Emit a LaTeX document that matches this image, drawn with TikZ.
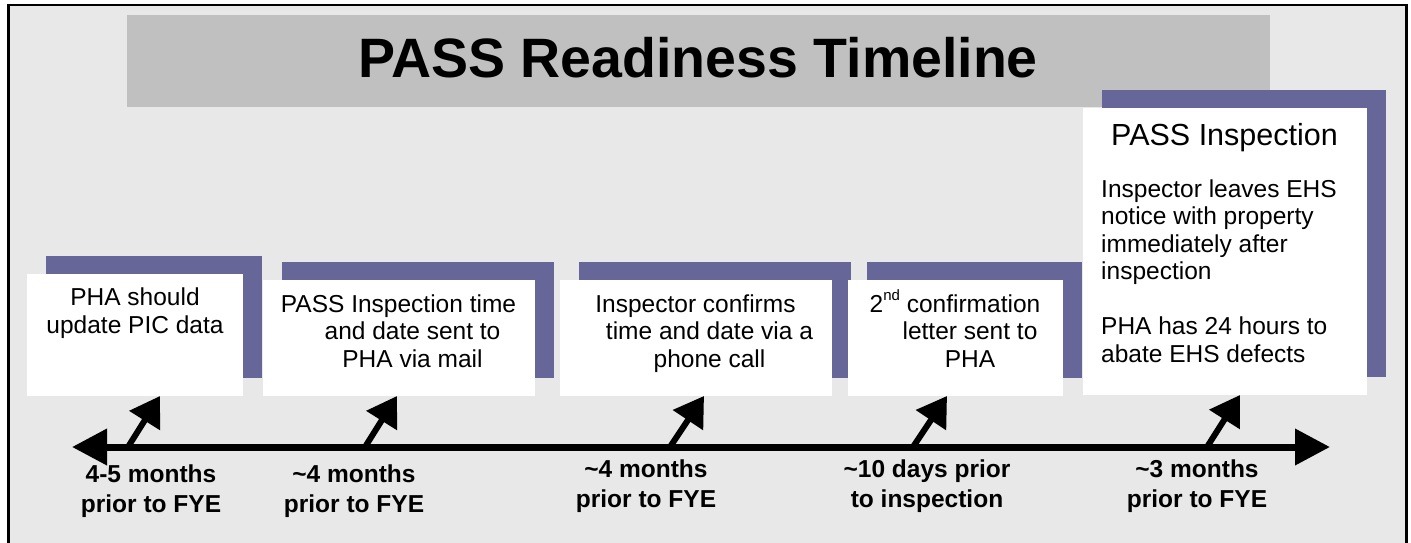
\documentclass[tikz,border=0pt]{standalone}
\usepackage{fontspec}
\setmainfont{Liberation Sans}
\usetikzlibrary{arrows.meta,shadows}
\definecolor{panelgray}{HTML}{E8E8E8}
\definecolor{titlegray}{HTML}{C0C0C0}
\definecolor{shadowblue}{HTML}{666699}

\begin{document}
\begin{tikzpicture}[x=1pt,y=-1pt,
  stepbox/.style={fill=white, inner sep=0pt, anchor=north west,
    general shadow={fill=shadowblue, shadow xshift=18.5pt, shadow yshift=18pt}},
  boxtext/.style={inner sep=0pt, anchor=base, align=center,
    font=\fontsize{24.5}{27.5}\selectfont},
  whenlabel/.style={inner sep=0pt, anchor=base, align=center,
    font=\fontsize{24.5}{30}\selectfont\bfseries},
  pointer/.style={line width=6pt, -{Triangle[length=29pt,width=35pt]}},
  axis/.style={line width=7pt,
    {Triangle[length=35pt,width=35pt]}-{Triangle[length=35pt,width=35pt]}}
]
\useasboundingbox (0,0) rectangle (1411,542);
\clip (0,0) rectangle (1411,542);
\fill[white] (0,0) rectangle (1411,542);

% panel with black frame (runs past the lower edge)
\draw[line width=2.5pt, fill=panelgray] (8.5,5) rectangle (1406.5,570);

% title bar
\node (titlebar) [fill=titlegray, inner sep=0pt, anchor=north west,
  minimum width=1143pt, minimum height=92pt] at (127,15) {};
\node (title) [inner sep=0pt, anchor=base,
  font=\fontsize{55.5}{60}\selectfont\bfseries] at (698,77) {PASS Readiness Timeline};

% milestone boxes
\node (b1) [stepbox, minimum width=216pt, minimum height=122pt] at (27,274) {};
\node (b2) [stepbox, minimum width=272pt, minimum height=116pt] at (263,280) {};
\node (b3) [stepbox, minimum width=272pt, minimum height=116pt] at (560,280) {};
\node (b4) [stepbox, minimum width=215pt, minimum height=116pt] at (848,280) {};
\node (b5) [stepbox, minimum width=284pt, minimum height=287pt] at (1083,108) {};

% box texts (anchored on the baseline of their last line)
\node (t1) [boxtext] at (135,333) {PHA should\\update PIC data};
\node (t2) [boxtext] at (412.5,367) {PASS Inspection time\hspace*{28pt}\\and date sent to\\PHA via mail};
\node (t3) [boxtext] at (709.5,367) {Inspector confirms\hspace*{28pt}\\time and date via a\\phone call};
\node (t4) [boxtext] at (970,367) {2\raisebox{11.5pt}{\fontsize{15}{15}\selectfont nd} confirmation\hspace*{30pt}\\letter sent to\\PHA};
\node (t5) [inner sep=0pt, anchor=base, font=\fontsize{30.5}{33}\selectfont] at (1224.5,145) {PASS Inspection};
\node (t6) [boxtext, anchor=base west, align=left] at (1101,362)
  {Inspector leaves EHS\\notice with property\\immediately after\\inspection\\[27.5pt]PHA has 24 hours to\\abate EHS defects};

% time axis
\coordinate (tl) at (72,447);
\coordinate (tr) at (1330,447);
\draw[axis] (tl) -- (tr);

% pointers from the axis to the boxes
\coordinate (s1) at (128,447);  \coordinate (e1) at (160,396);
\coordinate (s2) at (365,447);  \coordinate (e2) at (397,396);
\coordinate (s3) at (670,447);  \coordinate (e3) at (704,396);
\coordinate (s4) at (913,447);  \coordinate (e4) at (947,396);
\coordinate (s5) at (1207,447); \coordinate (e5) at (1240,395);
\foreach \i in {1,...,5} \draw[pointer] (s\i) -- (e\i);

% timing labels
\node (l1) [whenlabel] at (151,512) {4-5 months\\prior to FYE};
\node (l2) [whenlabel] at (354,512) {\textasciitilde4 months\\prior to FYE};
\node (l3) [whenlabel] at (646,507) {\textasciitilde4 months\\prior to FYE};
\node (l4) [whenlabel] at (927,507) {\textasciitilde10 days prior\\to inspection};
\node (l5) [whenlabel] at (1197,507) {\textasciitilde3 months\\prior to FYE};
\end{tikzpicture}
\end{document}
